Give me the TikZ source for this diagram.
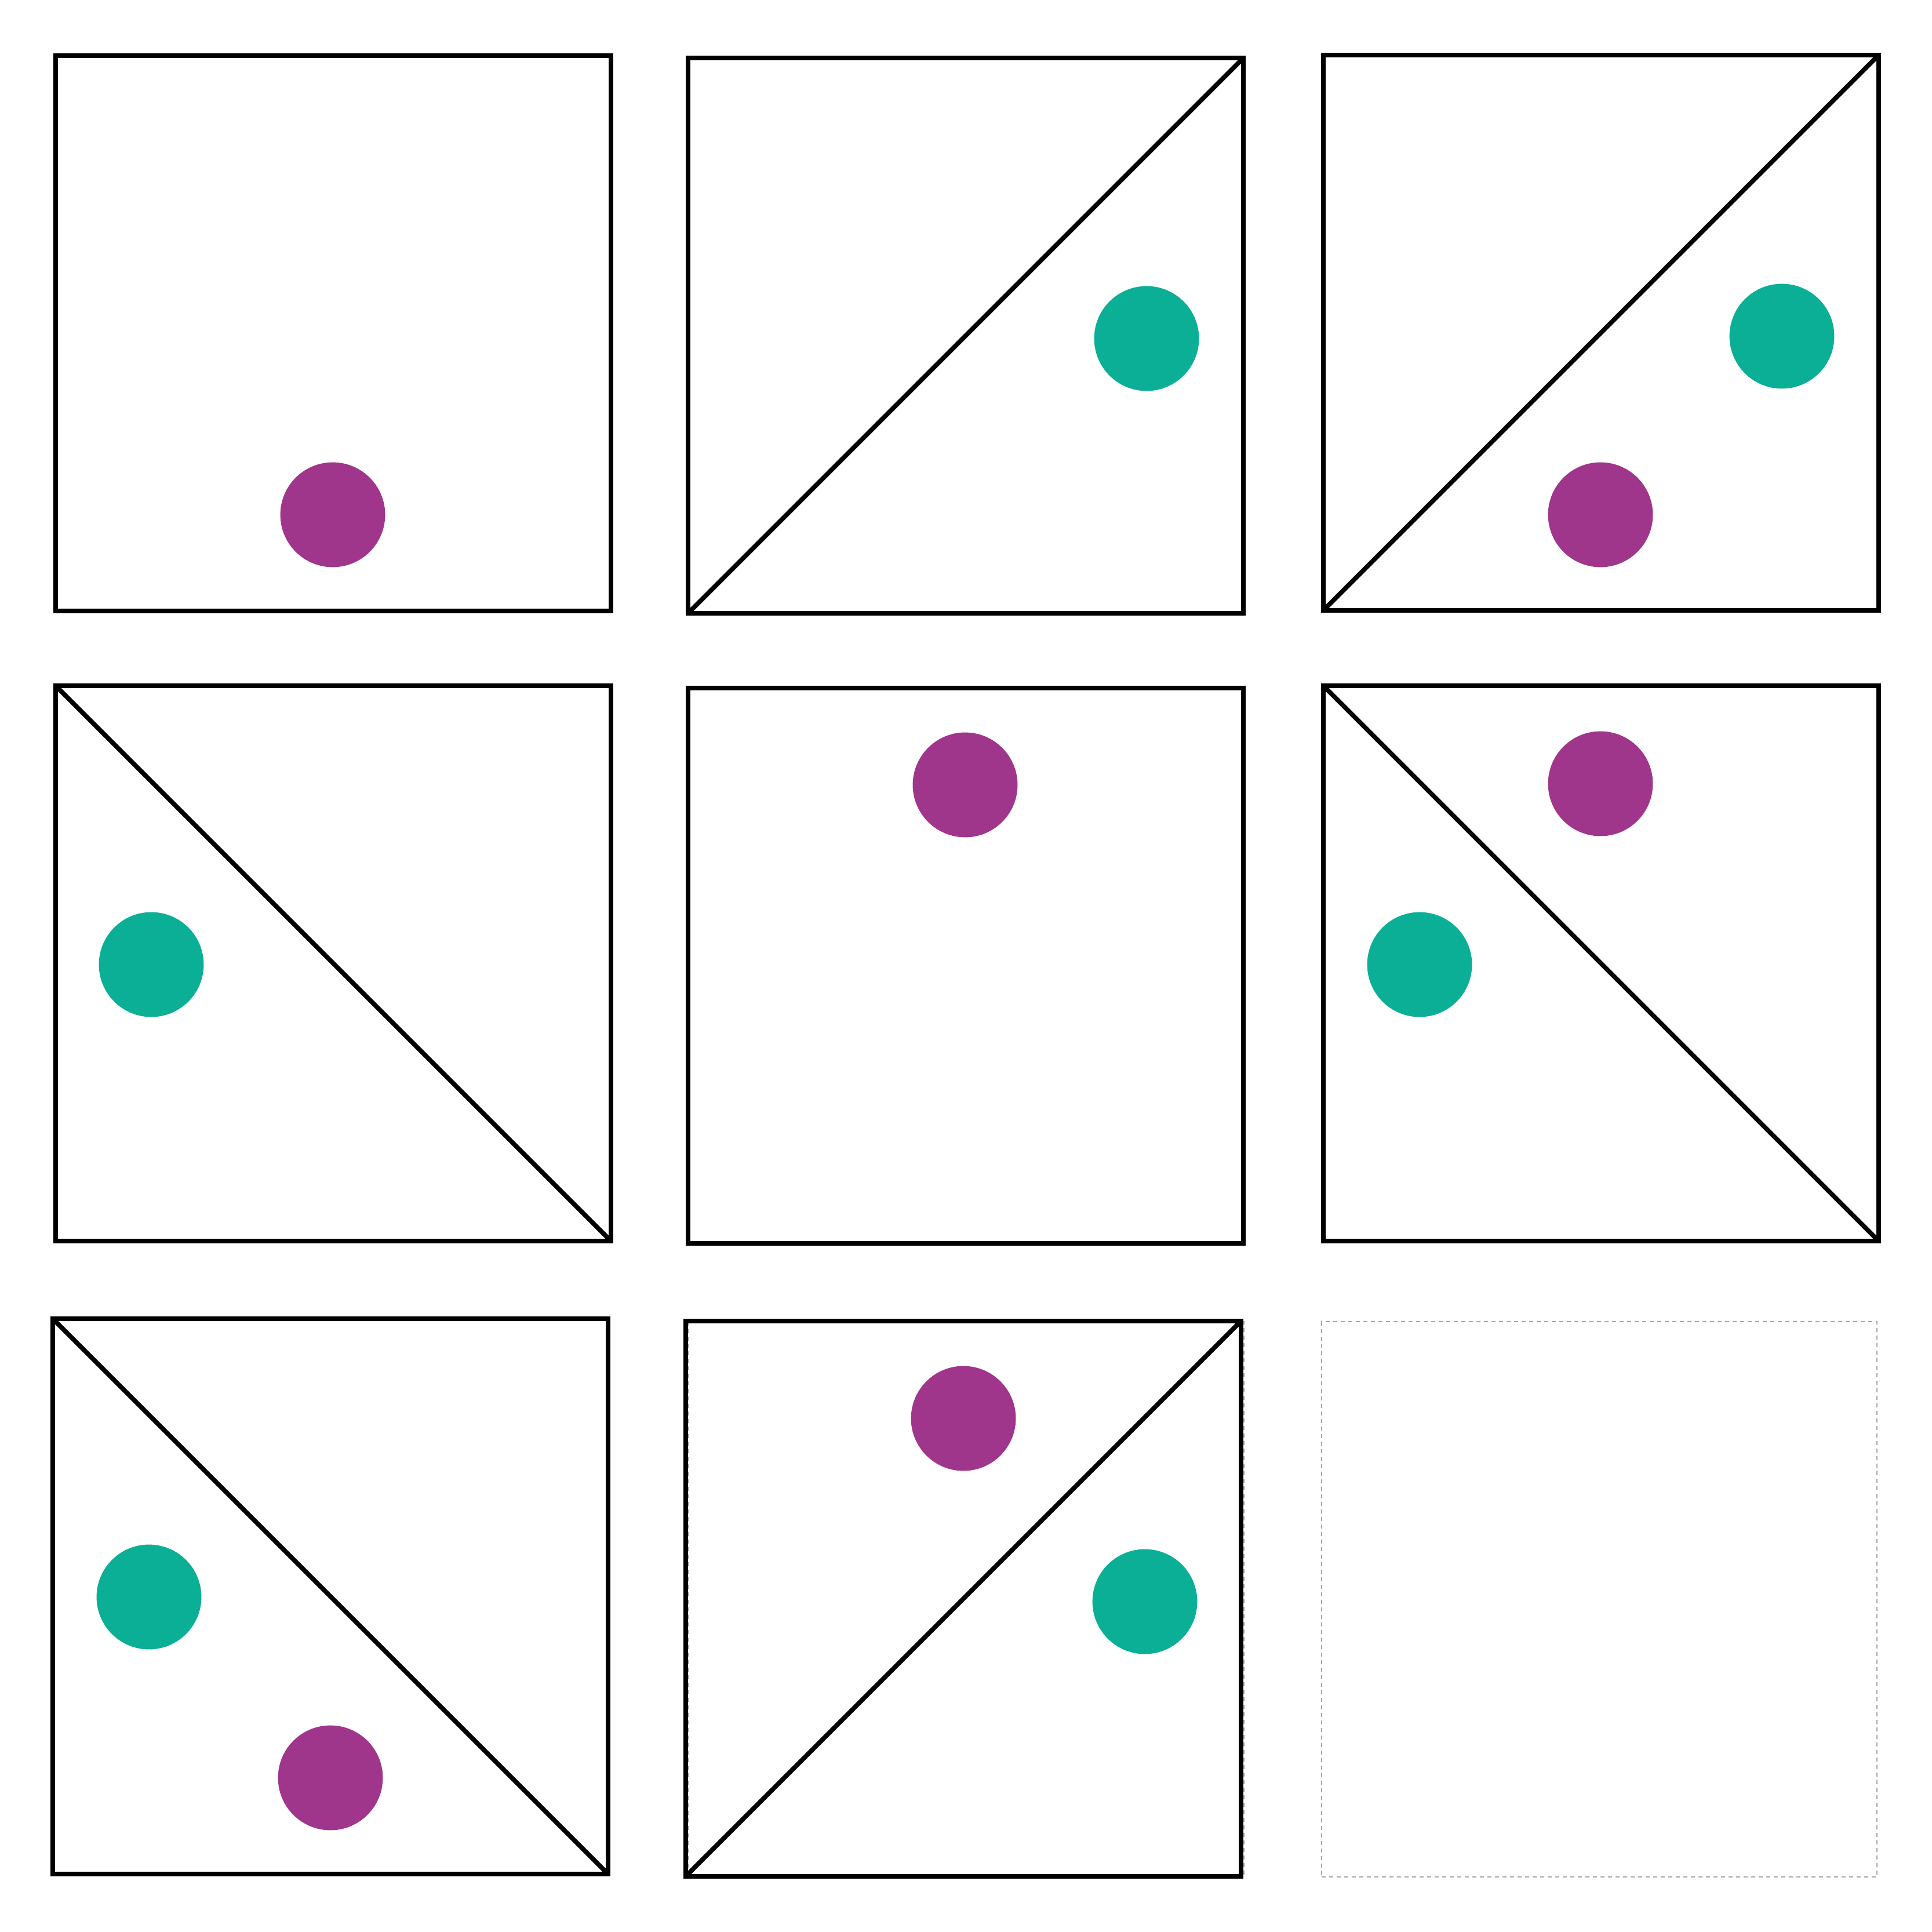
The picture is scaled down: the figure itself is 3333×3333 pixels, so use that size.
\documentclass[tikz,border=0pt]{standalone}
\usepackage{xcolor}
\definecolor{dotpurple}{HTML}{A0358C}
\definecolor{dotteal}{HTML}{0AAF96}
\tikzset{
  frame/.style={draw=black, line width=0.04cm, rectangle, minimum size=4.79cm, inner sep=0pt, outer sep=0pt},
  guide/.style={draw=gray!70, line width=0.01cm, dash pattern=on 0.035cm off 0.03cm, rectangle, minimum size=4.79cm, inner sep=0pt, outer sep=0pt},
  diag/.style={draw=black, line width=0.04cm},
  pdot/.style={circle, fill=dotpurple, minimum size=0.905cm, inner sep=0pt},
  tdot/.style={circle, fill=dotteal, minimum size=0.905cm, inner sep=0pt}
}
\begin{document}
\begin{tikzpicture}[x=0.005cm, y=-0.005cm]
\useasboundingbox[fill=white] (0,0) rectangle (3333,3333);
% guide frames (visible ones)
\node[guide] (g8) at (1667,2759) {};
\node[guide] (g9) at (2759,2759) {};
% frames
\node[frame] (f1) at (575,575) {};
\node[frame] (f2) at (1666,579) {};
\node[frame] (f3) at (2762,574) {};
\node[frame] (f4) at (575,1662) {};
\node[frame] (f5) at (1666,1666) {};
\node[frame] (f6) at (2762,1662) {};
\node[frame] (f7) at (570,2754) {};
\node[frame] (f8) at (1662,2758) {};
% diagonals
\draw[diag] (f2.south west) -- (f2.north east);
\draw[diag] (f3.south west) -- (f3.north east);
\draw[diag] (f4.north west) -- (f4.south east);
\draw[diag] (f6.north west) -- (f6.south east);
\draw[diag] (f7.north west) -- (f7.south east);
\draw[diag] (f8.south west) -- (f8.north east);
% dots
\node[pdot] (d1p) at (574,888) {};
\node[tdot] (d2t) at (1978,584) {};
\node[tdot] (d3t) at (3074,580) {};
\node[pdot] (d3p) at (2761,888) {};
\node[tdot] (d4t) at (261,1664) {};
\node[pdot] (d5p) at (1665,1354) {};
\node[pdot] (d6p) at (2761,1352) {};
\node[tdot] (d6t) at (2449,1664) {};
\node[tdot] (d7t) at (257,2755) {};
\node[pdot] (d7p) at (570,3067) {};
\node[pdot] (d8p) at (1662,2447) {};
\node[tdot] (d8t) at (1975,2763) {};
\end{tikzpicture}
\end{document}
